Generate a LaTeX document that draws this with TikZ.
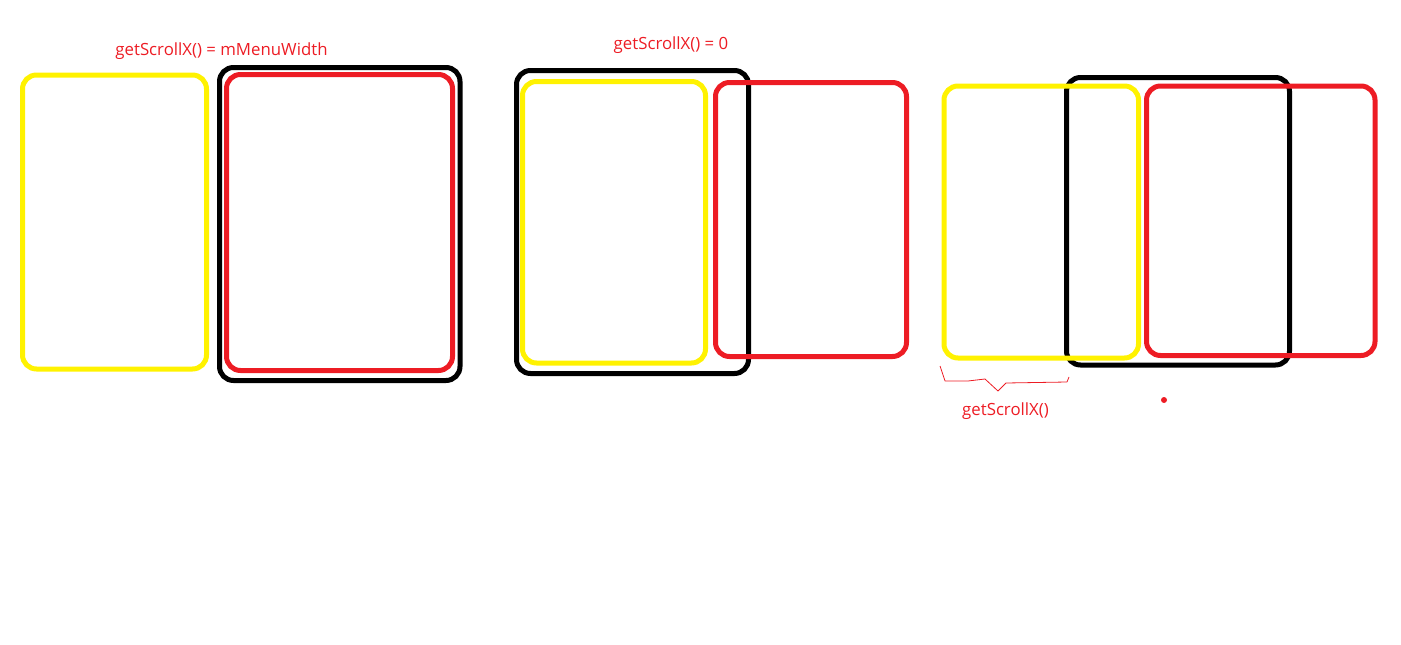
\documentclass[tikz,border=0pt]{standalone}
\usepackage{fontspec}
\setmainfont{Open Sans}
\usepackage[]{xcolor}
\usepackage{tikz}
\usetikzlibrary{calc}

\definecolor{pyellow}{RGB}{255,242,0}
\definecolor{pred}{RGB}{237,28,36}

\begin{document}
\begin{tikzpicture}[x=1pt,y=-1pt]
\tikzstyle{frame}=[line width=5pt,rounded corners=14pt,inner sep=0pt,outer sep=0pt]
\tikzstyle{yframe}=[frame,draw=pyellow]
\tikzstyle{rframe}=[frame,draw=pred]
\tikzstyle{kframe}=[frame,draw=black]
\tikzstyle{label}=[text=pred,anchor=base,font=\fontsize{16.8}{20}\selectfont]
\tikzstyle{brace}=[pred,line width=0.8pt,line join=round]

\useasboundingbox (0,0) rectangle (1401,645);

% first state
\node[kframe,minimum width=240.5pt,minimum height=313pt] (k1) at (339.75,224) {};
\node[yframe,minimum width=184pt,minimum height=294pt] (y1) at (114.5,222) {};
\node[rframe,minimum width=226pt,minimum height=296pt] (r1) at (339.5,222.5) {};
\node[label] (t1) at (221.5,55) {getScrollX() = mMenuWidth};

% second state
\node[kframe,minimum width=232pt,minimum height=303pt] (k2) at (632.5,222) {};
\node[yframe,minimum width=183pt,minimum height=281.5pt] (y2) at (614,222.25) {};
\node[rframe,minimum width=191pt,minimum height=274pt] (r2) at (811,219.5) {};
\node[label] (t2) at (671,49) {getScrollX() = 0};

% third state
\node[kframe,minimum width=223pt,minimum height=287.5pt] (k3) at (1178,221.25) {};
\node[yframe,minimum width=194.5pt,minimum height=272pt] (y3) at (1041.25,222) {};
\node[rframe,minimum width=228.5pt,minimum height=269.5pt] (r3) at (1260.75,220.75) {};
\node[label] (t3) at (1005.5,415) {getScrollX()};

\coordinate (bl) at ($(y3.south west)+(-4,8)$);
\coordinate (br) at ($(k3.south west)+(2.5,12)$);
\draw[brace] (bl) -- ++(5,15) -- ++(23,0) -- ++(17,-2) -- ++(13,12)
  -- ++(8,-8) -- ++(61,-1) -- (br);
\fill[pred] (1164,400) circle (3pt);
\end{tikzpicture}
\end{document}
